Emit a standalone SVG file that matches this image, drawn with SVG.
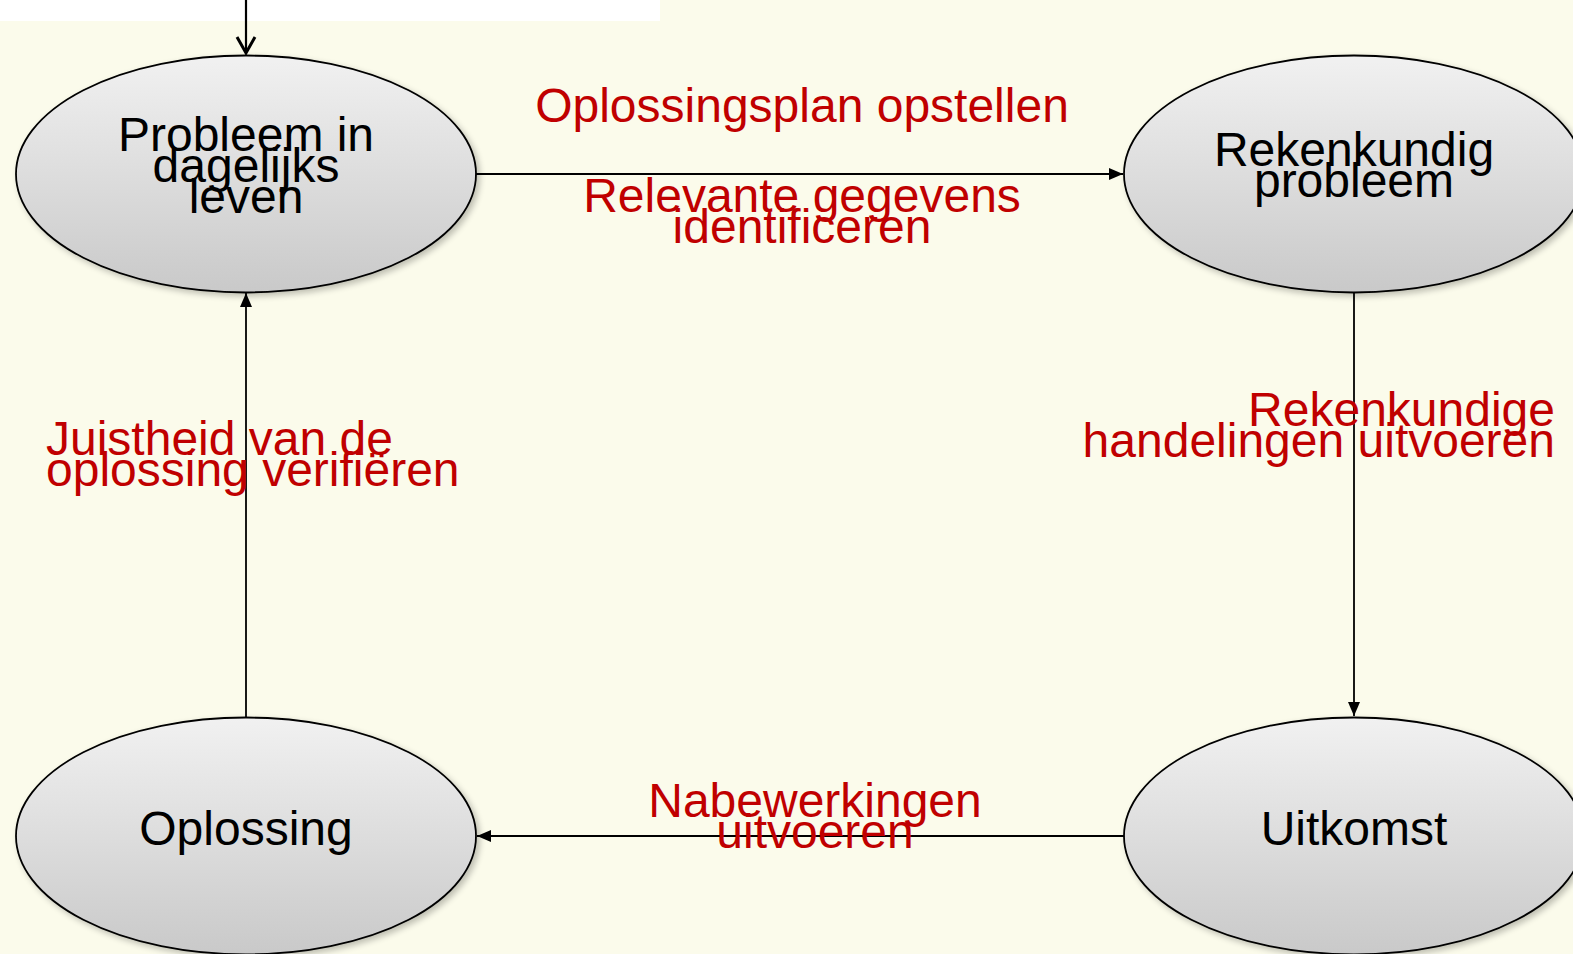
<svg xmlns="http://www.w3.org/2000/svg" width="1573" height="954" viewBox="0 0 1573 954">
<defs>
<linearGradient id="g" x1="0" y1="0" x2="0" y2="1">
<stop offset="0" stop-color="#F1F1F1"/>
<stop offset="1" stop-color="#C9C9C9"/>
</linearGradient>
<filter id="sh" x="-10%" y="-10%" width="130%" height="130%">
<feGaussianBlur in="SourceAlpha" stdDeviation="3"/>
<feOffset dx="3" dy="3" result="b"/>
<feComponentTransfer><feFuncA type="linear" slope="0.25"/></feComponentTransfer>
<feMerge><feMergeNode/><feMergeNode in="SourceGraphic"/></feMerge>
</filter>
<marker id="ah" viewBox="0 0 14 14" refX="14" refY="7" markerWidth="14" markerHeight="14" markerUnits="userSpaceOnUse" orient="auto">
<path d="M0,1 L14,7 L0,13 Z" fill="#000"/>
</marker>
</defs>
<style>
.node{fill:url(#g);stroke:#000;stroke-width:1.8;filter:url(#sh)}
.nt{font-family:"Liberation Sans",Arial,sans-serif;font-size:48px;fill:#000;text-anchor:middle}
.lt{font-family:"Liberation Sans",Arial,sans-serif;font-size:48px;fill:#C00000}
.c{stroke:#000;stroke-width:1.8;fill:none;marker-end:url(#ah)}
</style>
<rect x="0" y="0" width="1573" height="954" fill="#FBFBEB"/>
<rect x="0" y="0" width="660" height="21" fill="#FFFFFF"/>

<g id="connectors">
<line x1="246" y1="0" x2="246" y2="52" stroke="#000" stroke-width="2.2"/>
<polyline points="237,37 246,53 255,37" fill="none" stroke="#000" stroke-width="3"/>
<line class="c" x1="476" y1="174" x2="1123" y2="174"/>
<line class="c" x1="1354" y1="292" x2="1354" y2="716"/>
<line class="c" x1="1124" y1="836" x2="477" y2="836"/>
<line class="c" x1="246" y1="717" x2="246" y2="293"/>
</g>

<g id="node-probleem">
<ellipse class="node" cx="246" cy="174" rx="230" ry="118.5"/>
<text class="nt" x="246" y="150.5">Probleem in</text>
<text class="nt" x="246" y="181.5">dagelijks</text>
<text class="nt" x="246" y="212.5">leven</text>
</g>

<g id="node-rekenkundig">
<ellipse class="node" cx="1354" cy="174" rx="230" ry="118.5"/>
<text class="nt" x="1354" y="166">Rekenkundig</text>
<text class="nt" x="1354" y="197">probleem</text>
</g>

<g id="node-oplossing">
<ellipse class="node" cx="246" cy="836" rx="230" ry="118.5"/>
<text class="nt" x="246" y="845">Oplossing</text>
</g>

<g id="node-uitkomst">
<ellipse class="node" cx="1354" cy="836" rx="230" ry="118.5"/>
<text class="nt" x="1354" y="845">Uitkomst</text>
</g>

<g id="labels">
<text class="lt" x="802" y="122" text-anchor="middle">Oplossingsplan opstellen</text>
<text class="lt" x="802" y="211.5" text-anchor="middle">Relevante gegevens</text>
<text class="lt" x="802" y="242.5" text-anchor="middle">identificeren</text>
<text class="lt" x="1555" y="425.5" text-anchor="end">Rekenkundige</text>
<text class="lt" x="1555" y="457" text-anchor="end">handelingen uitvoeren</text>
<text class="lt" x="46" y="455" text-anchor="start">Juistheid van de</text>
<text class="lt" x="46" y="486" text-anchor="start">oplossing verifiëren</text>
<text class="lt" x="815" y="817" text-anchor="middle">Nabewerkingen</text>
<text class="lt" x="815" y="848" text-anchor="middle">uitvoeren</text>
</g>
</svg>
